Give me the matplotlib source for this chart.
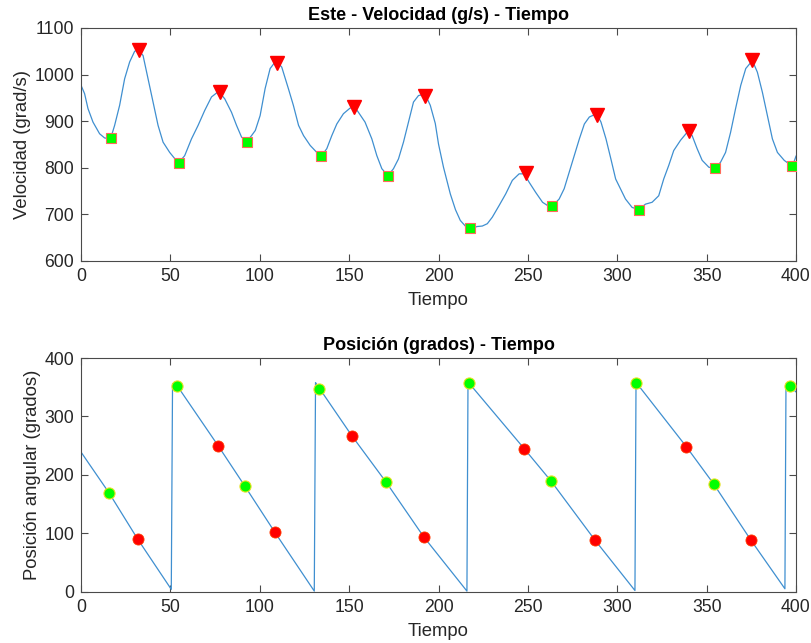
import matplotlib
matplotlib.use("Agg")
import matplotlib.pyplot as plt

plt.rcParams['font.family'] = ['Liberation Sans', 'DejaVu Sans']

# ---- Velocity curve ----
vel_t = [0, 2, 3.9, 6.7, 10.4, 13.2, 16.5, 18.8, 21.6, 24.4, 27.2, 30, 32, 34.7, 37.5,
         40.3, 43.1, 45.9, 49.6, 54.5, 58, 61.8, 65.5, 69.2, 73, 77, 80.4, 84.2, 87,
         89.8, 92.6, 95.4, 97.5, 100.2, 103, 105.8, 108.6, 110, 112.3, 116, 118.8,
         121.7, 124.5, 128.2, 131.9, 134.6, 137.5, 140.3, 143.1, 146.8, 150.5, 153,
         155.2, 158.9, 162.7, 165.5, 168.3, 171.7, 174.8, 177.6, 180.4, 183.2, 186,
         188.8, 192.5, 195.4, 198.2, 200, 202.8, 206.6, 209.5, 212.2, 215, 218, 221.7,
         224.5, 227.3, 230.1, 233.9, 237.6, 241.3, 245.1, 248, 250.7, 254.4, 258.2,
         261, 263.8, 267.5, 270.3, 273.1, 276, 278.8, 281.6, 284.4, 288.5, 290.9,
         293.7, 296.5, 299.1, 301.8, 304.6, 308.3, 312, 315.8, 319.5, 323.2, 326,
         328.8, 331.6, 335.4, 339.5, 341.9, 344.7, 347.5, 351.3, 355, 357.8, 360.6,
         363.4, 366.2, 369.1, 371.9, 375.6, 378.4, 381.2, 384, 386.8, 389.6, 393.4,
         398, 400]
vel_v = [977, 959, 927, 898, 873, 864, 862, 891, 934, 991, 1027, 1050, 1053, 1041, 991,
         941, 891, 855, 833, 810, 826, 862, 891, 923, 952, 964, 948, 919, 891,
         866, 856, 869, 880, 912, 970, 1013, 1027, 1026, 1016, 970, 934,
         891, 869, 848, 833, 826, 841, 869, 894, 916, 928, 931,
         919, 898, 862, 826, 798, 783, 798, 819, 855, 898, 941,
         955, 958, 934, 895, 851, 801, 744, 710, 687, 675, 670, 674,
         675, 680, 694, 719, 744, 773, 787, 787, 769, 747, 726,
         719, 718, 733, 755, 790, 826, 862, 894, 909, 916, 898,
         862, 818, 776, 755, 733, 715, 710, 722, 726, 740, 776,
         805, 837, 859, 878, 869, 841, 816, 801, 800, 812, 833,
         876, 927, 977, 1013, 1030, 1005, 962, 912, 862, 833, 816,
         803, 825]

vel_max_t = [32.7, 77.6, 109.5, 153.0, 192.6, 248.8, 288.7, 339.9, 375.5]
vel_max_v = [1052, 962, 1025, 930, 954, 788, 914, 878, 1031]
vel_min_t = [16.6, 54.8, 92.6, 134.5, 171.7, 217.8, 263.7, 311.9, 354.8, 397.9]
vel_min_v = [863, 810, 856, 826, 783, 670, 718, 710, 800, 803]

# ---- Position curve ----
pos_t = [0, 15.7, 31.7, 50.5, 51.2, 53.9, 76.9, 91.6, 108.6, 130.5, 131.2, 133.4,
         151.5, 170.8, 191.7, 215.9, 216.5, 216.8, 247.9, 262.8, 287.6, 309.9, 310.5,
         310.6, 338.7, 353.9, 374.6, 393.8, 394.4, 396.6, 400]
pos_v = [239, 169, 90, 4, 356, 352, 249, 181, 101, 1, 358, 348,
         267, 187, 94, 1, 359, 358, 245, 190, 88, 2, 358,
         358, 248, 184.6, 89, 5, 355, 352, 342]

pos_max_t = [31.7, 76.9, 108.6, 151.5, 191.7, 247.9, 287.6, 338.7, 374.6]
pos_max_v = [90, 249, 101.5, 267, 94, 245, 88, 248, 89]
pos_min_t = [15.7, 53.9, 91.6, 133.4, 170.8, 216.8, 262.8, 310.6, 353.9, 396.6]
pos_min_v = [168.7, 352, 181, 347.7, 187.5, 358, 190, 358, 184.6, 352]

x_ticks = [0, 50, 100, 150, 200, 250, 300, 350, 400]

LINE = '#3f8fd0'
EDGE = '#4a4a4a'
TXT = '#262626'

fig = plt.figure(figsize=(8.11, 6.43), dpi=100)
ax1 = fig.add_axes([0.0999, 0.5941, 0.8816, 0.3624])
ax2 = fig.add_axes([0.0999, 0.0798, 0.8816, 0.3634])


def style(ax):
    for s in ax.spines.values():
        s.set_color(EDGE)
        s.set_linewidth(0.8)
    ax.tick_params(direction='in', length=5, width=0.8, color=EDGE,
                   top=True, right=True, labelsize=12.7, labelcolor=TXT, pad=5)
    ax.set_xlim(0, 400)
    ax.set_xticks(x_ticks)


# Top
ax1.plot(vel_t, vel_v, color=LINE, lw=0.9, zorder=2)
ax1.plot(vel_max_t, vel_max_v, linestyle='none', marker='v', markersize=9.5,
         markerfacecolor='#ff0000', markeredgecolor='#ff0000', zorder=3)
ax1.plot(vel_min_t, vel_min_v, linestyle='none', marker='s', markersize=6.5,
         markerfacecolor='#00ff00', markeredgecolor='#ff6a5a', markeredgewidth=0.8, zorder=3)
ax1.set_ylim(600, 1100)
ax1.set_yticks([600, 700, 800, 900, 1000, 1100])
style(ax1)
ax1.set_title('Este - Velocidad (g/s) - Tiempo', fontsize=13, fontweight='bold',
              color='black', pad=6)
ax1.set_xlabel('Tiempo', fontsize=13.3, color=TXT, labelpad=5)
ax1.set_ylabel('Velocidad (grad/s)', fontsize=13.3, color=TXT, labelpad=2)

# Bottom
ax2.plot(pos_t, pos_v, color=LINE, lw=0.9, zorder=2)
ax2.plot(pos_max_t, pos_max_v, linestyle='none', marker='o', markersize=8,
         markerfacecolor='#ff0000', markeredgecolor='#ff3a00', markeredgewidth=0.6, zorder=3)
ax2.plot(pos_min_t, pos_min_v, linestyle='none', marker='o', markersize=8,
         markerfacecolor='#00ff00', markeredgecolor='#e8e020', markeredgewidth=0.8, zorder=3)
ax2.set_ylim(0, 400)
ax2.set_yticks([0, 100, 200, 300, 400])
style(ax2)
ax2.set_title('Posición (grados) - Tiempo', fontsize=13, fontweight='bold',
              color='black', pad=6)
ax2.set_xlabel('Tiempo', fontsize=13.3, color=TXT, labelpad=5)
ax2.set_ylabel('Posición angular (grados)', fontsize=13.3, color=TXT, labelpad=2)

fig.savefig('out.png', dpi=100, facecolor='white')
